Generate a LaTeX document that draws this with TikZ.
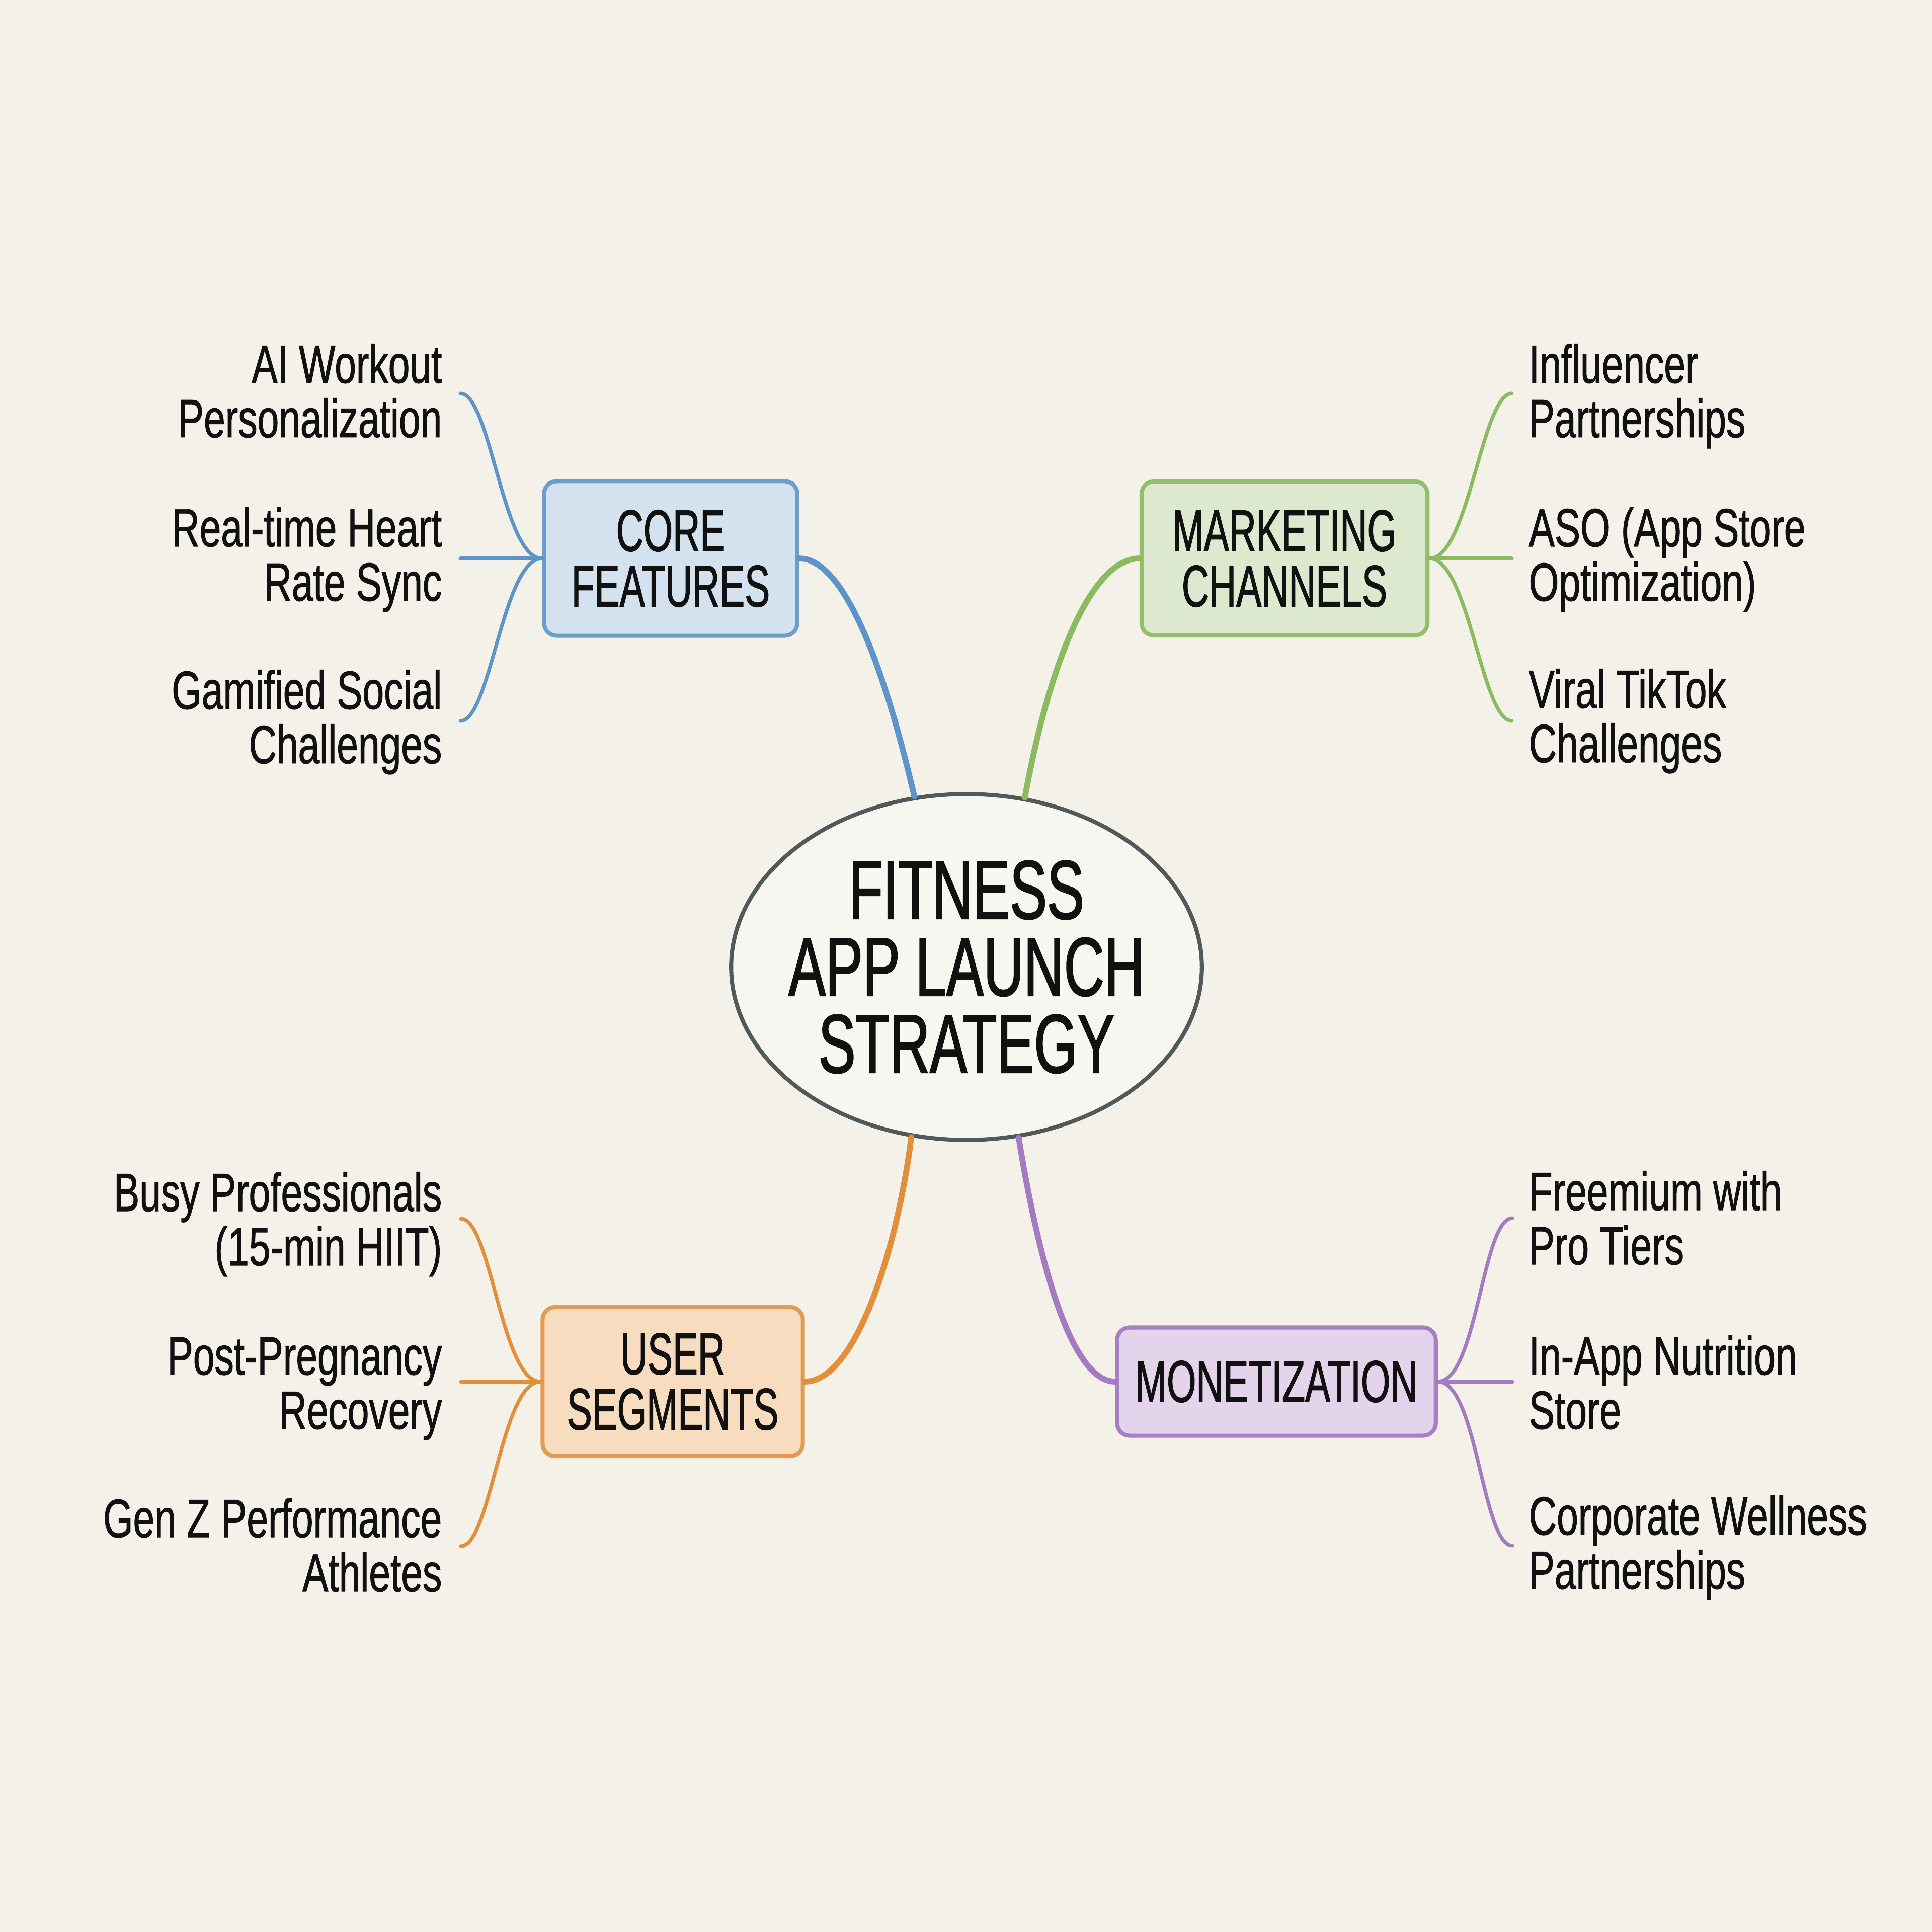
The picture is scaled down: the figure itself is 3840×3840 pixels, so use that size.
\documentclass[tikz,border=0pt]{standalone}
\usepackage{fontspec}
\setmainfont{Liberation Sans}
\newfontfamily\leaffont{Liberation Sans}[FakeStretch=0.715,FakeBold=0.9]
\newfontfamily\boxfont{Liberation Sans}[FakeStretch=0.64,FakeBold=1.1]
\newfontfamily\hubfont{Liberation Sans}[FakeStretch=0.67,FakeBold=1.4]
\usetikzlibrary{shapes.geometric}
\definecolor{bgc}{HTML}{F4F1E8}
\definecolor{hubfill}{HTML}{F8F6F0}
\definecolor{hubline}{HTML}{505A5A}
\definecolor{ink}{HTML}{111111}
\definecolor{blueln}{HTML}{5E95C8}
\definecolor{bluefill}{HTML}{D4E2EF}
\definecolor{blueedge}{HTML}{6D9DCB}
\definecolor{greenln}{HTML}{8CBA5E}
\definecolor{greenfill}{HTML}{DDE9CF}
\definecolor{greenedge}{HTML}{92BF6C}
\definecolor{orangeln}{HTML}{E38E3A}
\definecolor{orangefill}{HTML}{F7DCC0}
\definecolor{orangeedge}{HTML}{E49A52}
\definecolor{purpleln}{HTML}{A47BC0}
\definecolor{purplefill}{HTML}{E3D4EB}
\definecolor{purpleedge}{HTML}{A77FC2}
\begin{document}
\begin{tikzpicture}[x=0.01cm,y=-0.01cm,
  hub/.style={ellipse, draw=hubline, line width=2.3pt, fill=hubfill,
    minimum width=9.35cm, minimum height=6.87cm, inner xsep=-9pt, inner ysep=0pt, align=center,
    text=ink, font=\hubfont\fontsize{47}{43.5}\selectfont},
  branch/.style={rounded corners=0.25cm, line width=2.3pt, align=center, inner sep=0pt,
    text=ink, font=\boxfont\fontsize{33.3}{31.3}\selectfont},
  leafL/.style={anchor=base east, align=right, inner sep=0pt, text=ink,
    font=\leaffont\fontsize{30.5}{30.7}\selectfont},
  leafR/.style={anchor=base west, align=left, inner sep=0pt, text=ink,
    font=\leaffont\fontsize{30.5}{30.7}\selectfont},
  mainln/.style={line width=3.3pt, line cap=round},
  twig/.style={line width=2pt, line cap=round}
]
\fill[bgc] (0,0) rectangle (3840,3840);
\useasboundingbox (0,0) rectangle (3840,3840);

% hub and branches
\node[hub] (hub) at (1921,1922) {FITNESS\\APP LAUNCH\\STRATEGY};
\node[branch, draw=blueedge, fill=bluefill, minimum width=5.03cm, minimum height=3.07cm] (core) at (1333,1110) {CORE\\FEATURES};
\node[branch, draw=greenedge, fill=greenfill, minimum width=5.68cm, minimum height=3.06cm] (mkt) at (2553,1110) {MARKETING\\CHANNELS};
\node[branch, draw=orangeedge, fill=orangefill, minimum width=5.17cm, minimum height=2.96cm] (user) at (1337,2746) {USER\\SEGMENTS};
\node[branch, draw=purpleedge, fill=purplefill, minimum width=6.33cm, minimum height=2.15cm] (mon) at (2537,2746) {MONETIZATION};

% leaves (anchored at the baseline of the last line)
\node[leafL] (l1) at (879,869) {AI Workout\\Personalization};
\node[leafL] (l2) at (879,1194) {Real-time Heart\\Rate Sync};
\node[leafL] (l3) at (879,1517) {Gamified Social\\Challenges};
\node[leafR] (r1) at (3038,869) {Influencer\\Partnerships};
\node[leafR] (r2) at (3038,1194) {ASO (App Store\\Optimization)};
\node[leafR] (r3) at (3038,1515) {Viral TikTok\\Challenges};
\node[leafL] (u1) at (879,2515) {Busy Professionals\\(15-min HIIT)};
\node[leafL] (u2) at (879,2840) {Post-Pregnancy\\Recovery};
\node[leafL] (u3) at (879,3163) {Gen Z Performance\\Athletes};
\node[leafR] (m1) at (3038,2513) {Freemium with\\Pro Tiers};
\node[leafR] (m2) at (3038,2840) {In-App Nutrition\\Store};
\node[leafR] (m3) at (3038,3158) {Corporate Wellness\\Partnerships};

% twig end points
\coordinate (cl1) at (915,782);
\coordinate (cl2) at (915,1110);
\coordinate (cl3) at (915,1433);
\coordinate (cr1) at (3005,782);
\coordinate (cr2) at (3005,1110);
\coordinate (cr3) at (3005,1433);
\coordinate (cu1) at (916,2422);
\coordinate (cu2) at (916,2746);
\coordinate (cu3) at (916,3073);
\coordinate (cm1) at (3006,2421);
\coordinate (cm2) at (3006,2746);
\coordinate (cm3) at (3006,3072);

% main connectors
\draw[mainln, blueln] (core.east) .. controls +(85,0) and +(-65,-278) .. (hub.107);
\draw[mainln, greenln] (hub.71) .. controls +(45,-250) and +(-100,0) .. (mkt.west);
\draw[mainln, orangeln] (hub.252.5) .. controls +(-25,205) and +(105,0) .. (user.east);
\draw[mainln, purpleln] (hub.287.5) .. controls +(33,205) and +(-95,0) .. (mon.west);

% twigs
\draw[twig, blueln] (cl1) .. controls +(60,0) and +(-78,0) .. (core.west);
\draw[twig, blueln] (cl2) -- (core.west);
\draw[twig, blueln] (cl3) .. controls +(60,0) and +(-78,0) .. (core.west);
\draw[twig, greenln] (cr1) .. controls +(-60,0) and +(78,0) .. (mkt.east);
\draw[twig, greenln] (cr2) -- (mkt.east);
\draw[twig, greenln] (cr3) .. controls +(-60,0) and +(78,0) .. (mkt.east);
\draw[twig, orangeln] (cu1) .. controls +(60,0) and +(-78,0) .. (user.west);
\draw[twig, orangeln] (cu2) -- (user.west);
\draw[twig, orangeln] (cu3) .. controls +(60,0) and +(-78,0) .. (user.west);
\draw[twig, purpleln] (cm1) .. controls +(-60,0) and +(78,0) .. (mon.east);
\draw[twig, purpleln] (cm2) -- (mon.east);
\draw[twig, purpleln] (cm3) .. controls +(-60,0) and +(78,0) .. (mon.east);
\end{tikzpicture}
\end{document}
